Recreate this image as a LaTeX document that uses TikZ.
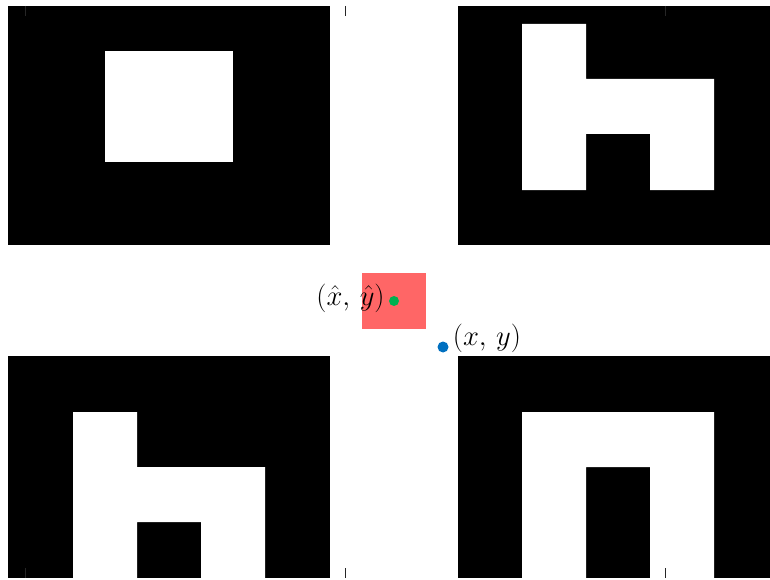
\documentclass[tikz,border=0pt]{standalone}
\usetikzlibrary{positioning}
\definecolor{patchred}{RGB}{255,102,102}
\definecolor{estgreen}{RGB}{0,176,80}
\definecolor{trueblue}{RGB}{0,112,192}
\definecolor{tickgray}{RGB}{38,38,38}
\newcommand{\ptlabel}[1]{\scalebox{1.15}{\Huge$#1$}}

\begin{document}
\begin{tikzpicture}[x=1pt,y=-1pt,
  tile/.style={fill=black},
  hole/.style={fill=white},
  dot/.style={circle,inner sep=0pt,minimum size=11pt},
  coordlabel/.style={inner sep=0pt},
  axtick/.style={draw=tickgray,line width=0.7pt},
]
\useasboundingbox (0,0) rectangle (770,580);

% Marker tiles
\fill[tile] (8,6)   rectangle (330,245);
\fill[tile] (458,6) rectangle (770,245);
\fill[tile] (8,356) rectangle (330,578);
\fill[tile] (458,356) rectangle (770,578);

% Tile patterns
\fill[hole] (105,51) rectangle (233,162);
\fill[hole] (522,24) -- (586,24) -- (586,79) -- (714,79) -- (714,190)
  -- (650,190) -- (650,134) -- (586,134) -- (586,190) -- (522,190) -- cycle;
\fill[hole] (73,412) -- (137,412) -- (137,467) -- (265,467) -- (265,578)
  -- (201,578) -- (201,522) -- (137,522) -- (137,578) -- (73,578) -- cycle;
\fill[hole] (522,412) -- (714,412) -- (714,578) -- (650,578) -- (650,467)
  -- (586,467) -- (586,578) -- (522,578) -- cycle;

% Axis ticks
\foreach \tx in {25,345,665} {
  \draw[axtick] (\tx,6) -- (\tx,16);
  \draw[axtick] (\tx,568) -- (\tx,578);
}

% Search window and points
\fill[patchred] (362,273) rectangle (426,329);
\node[dot,fill=estgreen,minimum size=10pt] (est) at (394,301) {};
\node[dot,fill=trueblue] (truept) at (443,347) {};

\node[coordlabel,left=4pt of est,yshift=3pt] (estlbl) {\ptlabel{(\hat{x},\,\hat{y})}};
\node[coordlabel,right=4pt of truept,yshift=9pt] (truelbl) {\ptlabel{(x,\,y)}};
\end{tikzpicture}
\end{document}
